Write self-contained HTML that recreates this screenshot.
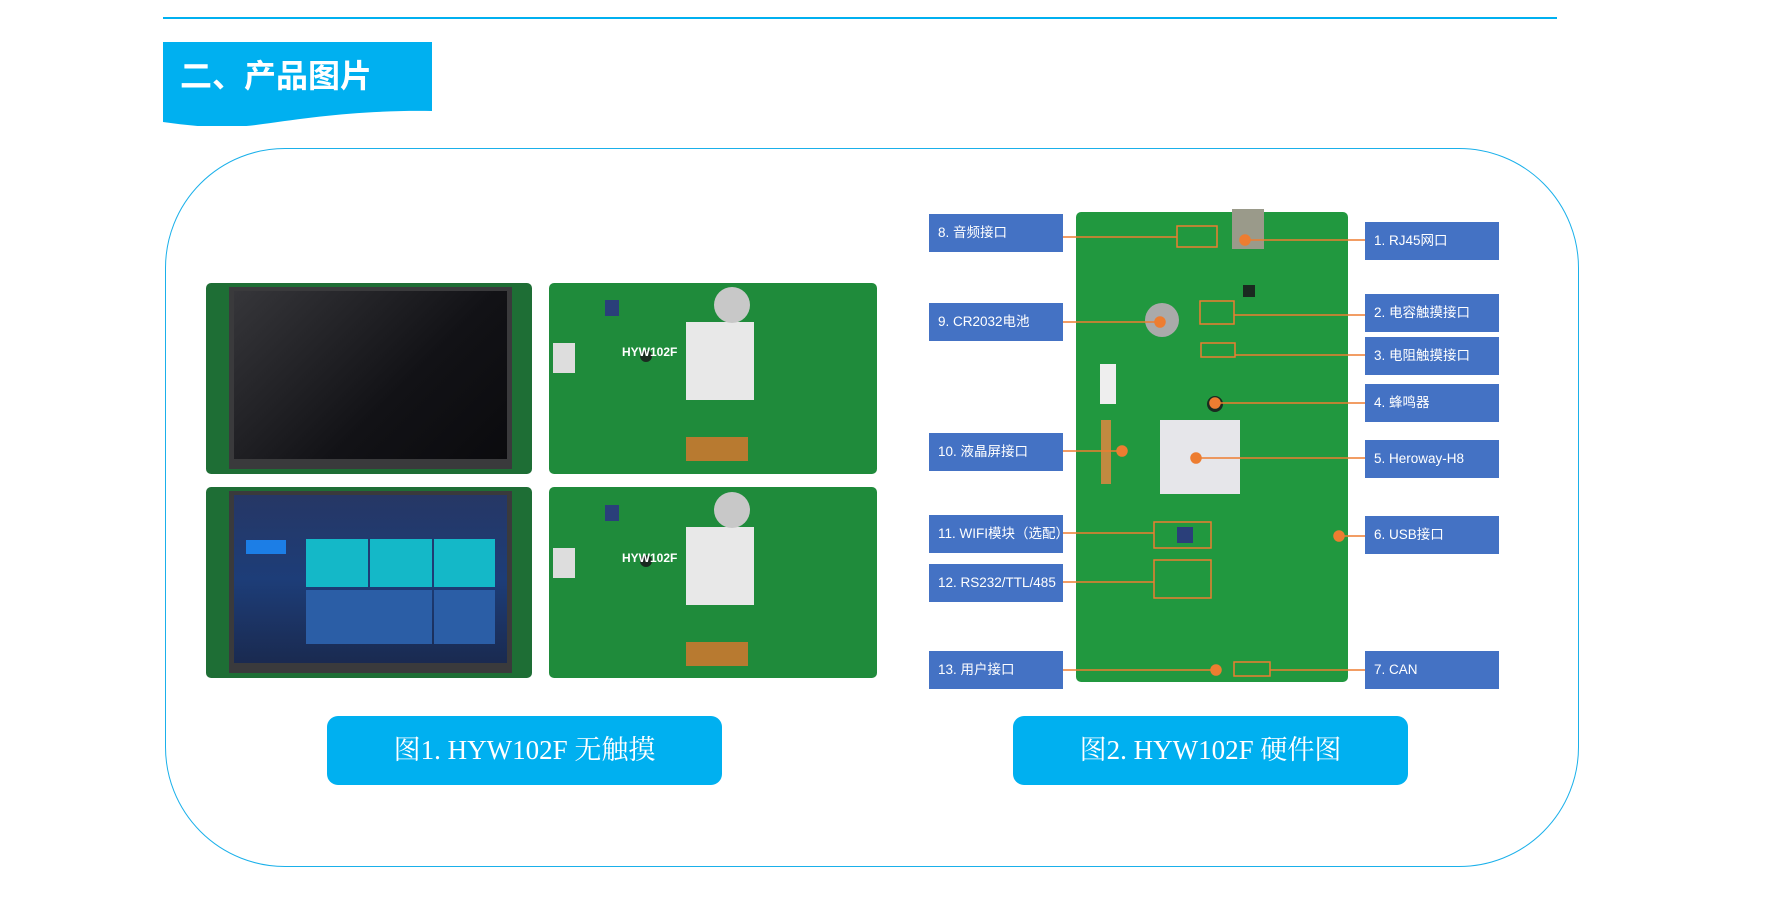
<!DOCTYPE html>
<html><head><meta charset="utf-8"><style>
html,body{margin:0;padding:0;background:#fff;width:1782px;height:902px;overflow:hidden;position:relative;font-family:"Liberation Sans","Noto Sans CJK SC",sans-serif}
.abs{position:absolute}
.lbl{position:absolute;width:134px;height:38px;background:#4472c4;color:#fff;font-size:13.5px;line-height:38px;padding-left:9px;box-sizing:border-box;white-space:nowrap}
.cap{position:absolute;background:#00b0f0;border-radius:11px;color:#fff;font-family:"Liberation Serif","Noto Serif CJK SC",serif;font-size:27px;text-align:center;line-height:69px}
.pcb{position:absolute;background:#1f8b3b;border-radius:5px}
.chip{position:absolute;background:#1a2a20;}
#rp{position:absolute;left:-5px;top:0;width:1782px;height:902px}
</style></head><body>
<div class="abs" style="left:163px;top:17px;width:1394px;height:2px;background:#00b0f0"></div>
<svg class="abs" style="left:163px;top:42px" width="270" height="84"><path d="M0 0H269V69C200 68 150 75 100 82C60 88 30 84 0 80Z" fill="#00b0f0"/></svg>
<div class="abs" style="left:180px;top:52px;color:#fff;font-size:32px;font-weight:bold;font-family:'Noto Sans CJK SC',sans-serif;line-height:44px">二、产品图片</div>
<div class="abs" style="left:165px;top:148px;width:1414px;height:719px;border:1.5px solid #1ab0ea;border-radius:120px;box-sizing:border-box"></div>

<!-- left images -->
<div class="pcb" style="left:206px;top:283px;width:326px;height:191px;background:#1e6e35"></div>
<div class="abs" style="left:229px;top:287px;width:283px;height:182px;background:#3a3a3c"></div>
<div class="abs" style="left:234px;top:291px;width:273px;height:168px;background:linear-gradient(135deg,#36363a,#121216 60%,#0b0b0e)"></div>
<div class="pcb" style="left:206px;top:487px;width:326px;height:191px;background:#1e6e35"></div>
<div class="abs" style="left:229px;top:491px;width:283px;height:182px;background:#3a3a3c"></div>
<div class="abs" style="left:234px;top:495px;width:273px;height:168px;background:linear-gradient(180deg,#263765,#1d3d78 50%,#1a2a50)"></div>
<div class="abs" style="left:306px;top:539px;width:62px;height:48px;background:#14b8c8"></div>
<div class="abs" style="left:370px;top:539px;width:62px;height:48px;background:#14b8c8"></div>
<div class="abs" style="left:434px;top:539px;width:61px;height:48px;background:#14b8c8"></div>
<div class="abs" style="left:306px;top:590px;width:126px;height:54px;background:#2b5ea6"></div>
<div class="abs" style="left:434px;top:590px;width:61px;height:54px;background:#2b5ea6"></div>
<div class="abs" style="left:246px;top:540px;width:40px;height:14px;background:#1c7ee6"></div>
<div class="pcb" style="left:549px;top:283px;width:328px;height:191px"></div>
<div class="pcb" style="left:549px;top:487px;width:328px;height:191px"></div>
<div class="abs" style="left:686px;top:322px;width:68px;height:78px;background:#e8e8e8"></div>
<div class="abs" style="left:686px;top:527px;width:68px;height:78px;background:#e8e8e8"></div>
<div class="abs" style="left:714px;top:287px;width:36px;height:36px;border-radius:50%;background:#c8c8c8"></div>
<div class="abs" style="left:714px;top:492px;width:36px;height:36px;border-radius:50%;background:#c8c8c8"></div>
<div class="abs" style="left:686px;top:437px;width:62px;height:24px;background:#b87a30"></div>
<div class="abs" style="left:686px;top:642px;width:62px;height:24px;background:#b87a30"></div>
<div class="abs" style="left:553px;top:343px;width:22px;height:30px;background:#ddd"></div>
<div class="abs" style="left:553px;top:548px;width:22px;height:30px;background:#ddd"></div>
<div class="chip" style="left:605px;top:300px;width:14px;height:16px;background:#2a3f7a"></div>
<div class="chip" style="left:605px;top:505px;width:14px;height:16px;background:#2a3f7a"></div>
<div class="chip" style="left:640px;top:350px;width:12px;height:12px;border-radius:50%"></div>
<div class="chip" style="left:640px;top:555px;width:12px;height:12px;border-radius:50%"></div>
<div class="abs" style="left:622px;top:345px;color:#fff;font-size:12px;font-weight:bold">HYW102F</div>
<div class="abs" style="left:622px;top:551px;color:#fff;font-size:12px;font-weight:bold">HYW102F</div>
<div class="cap" style="left:327px;top:716px;width:395px;height:69px">图1. HYW102F 无触摸</div>
<div class="cap" style="left:1013px;top:716px;width:395px;height:69px">图2. HYW102F 硬件图</div>

<div id="rp">
<div class="pcb" style="left:1081px;top:212px;width:272px;height:470px;background:#21983f"></div>
<div class="abs" style="left:1237px;top:209px;width:32px;height:40px;background:#9a9a8a"></div>
<div class="abs" style="left:1150px;top:303px;width:34px;height:34px;border-radius:50%;background:#aaa"></div>
<div class="abs" style="left:1165px;top:420px;width:80px;height:74px;background:#e6e6ea"></div>
<div class="abs" style="left:1106px;top:420px;width:10px;height:64px;background:#c08a40"></div>
<div class="abs" style="left:1105px;top:364px;width:16px;height:40px;background:#eee"></div>
<div class="chip" style="left:1212px;top:396px;width:16px;height:16px;border-radius:50%"></div>
<div class="chip" style="left:1182px;top:527px;width:16px;height:16px;background:#2a3f7a"></div>
<div class="chip" style="left:1248px;top:285px;width:12px;height:12px"></div>

<div class="lbl" style="left:934px;top:214px">8. 音频接口</div>
<div class="lbl" style="left:934px;top:303px">9. CR2032电池</div>
<div class="lbl" style="left:934px;top:433px">10. 液晶屏接口</div>
<div class="lbl" style="left:934px;top:515px">11. WIFI模块（选配）</div>
<div class="lbl" style="left:934px;top:564px">12. RS232/TTL/485</div>
<div class="lbl" style="left:934px;top:651px">13. 用户接口</div>
<div class="lbl" style="left:1370px;top:222px">1. RJ45网口</div>
<div class="lbl" style="left:1370px;top:294px">2. 电容触摸接口</div>
<div class="lbl" style="left:1370px;top:337px">3. 电阻触摸接口</div>
<div class="lbl" style="left:1370px;top:384px">4. 蜂鸣器</div>
<div class="lbl" style="left:1370px;top:440px">5. Heroway-H8</div>
<div class="lbl" style="left:1370px;top:516px">6. USB接口</div>
<div class="lbl" style="left:1370px;top:651px">7. CAN</div>

<svg class="abs" style="left:0;top:0" width="1782" height="902" fill="none" stroke="#ed7d31" stroke-width="1.5">
<line x1="1068" y1="237" x2="1182" y2="237"/><rect x="1182" y="226" width="40" height="21"/>
<line x1="1370" y1="240" x2="1250" y2="240"/><circle cx="1250" cy="240" r="5" fill="#ed7d31"/>
<line x1="1068" y1="322" x2="1165" y2="322"/><circle cx="1165" cy="322" r="5" fill="#ed7d31"/>
<line x1="1370" y1="315" x2="1239" y2="315"/><rect x="1205" y="301" width="34" height="23"/>
<line x1="1370" y1="355" x2="1240" y2="355"/><rect x="1206" y="343" width="34" height="14"/>
<line x1="1370" y1="403" x2="1220" y2="403"/><circle cx="1220" cy="403" r="5" fill="#ed7d31"/>
<line x1="1370" y1="458" x2="1201" y2="458"/><circle cx="1201" cy="458" r="5" fill="#ed7d31"/>
<line x1="1068" y1="451" x2="1127" y2="451"/><circle cx="1127" cy="451" r="5" fill="#ed7d31"/>
<line x1="1068" y1="533" x2="1159" y2="533"/><rect x="1159" y="522" width="57" height="26"/>
<line x1="1370" y1="536" x2="1344" y2="536"/><circle cx="1344" cy="536" r="5" fill="#ed7d31"/>
<line x1="1068" y1="582" x2="1159" y2="582"/><rect x="1159" y="560" width="57" height="38"/>
<line x1="1068" y1="670" x2="1221" y2="670"/><circle cx="1221" cy="670" r="5" fill="#ed7d31"/>
<line x1="1370" y1="670" x2="1275" y2="670"/><rect x="1239" y="662" width="36" height="14"/>
</svg>
</div>
</body></html>
